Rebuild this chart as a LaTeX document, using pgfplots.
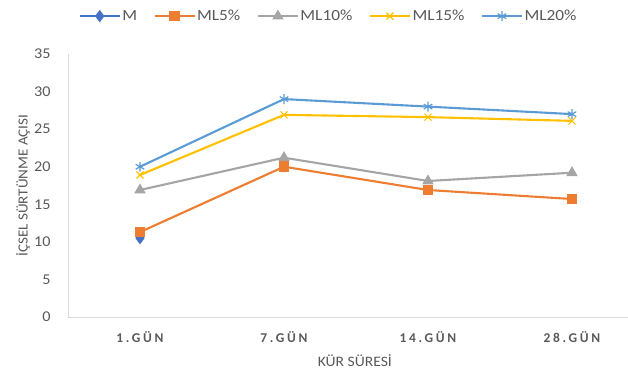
\documentclass[border=0pt]{standalone}
\usepackage{fontspec}
\setmainfont{Carlito}[FakeStretch=1.08]
\newfontfamily\tickfont{Carlito}[LetterSpace=20]
\newfontfamily\legfont{Carlito}[FakeStretch=1.12]
\usepackage{pgfplots}
\pgfplotsset{compat=1.18}
\definecolor{cM}{HTML}{4472C4}
\definecolor{cML5}{HTML}{ED7D31}
\definecolor{cML10}{HTML}{A5A5A5}
\definecolor{cML15}{HTML}{FFC000}
\definecolor{cML20}{HTML}{5B9BD5}
\definecolor{txt}{HTML}{595959}
\definecolor{axl}{HTML}{D9D9D9}
\begin{document}
\begin{tikzpicture}
\useasboundingbox (0,0) rectangle (628bp,374bp);
\begin{axis}[
  at={(68bp,57bp)}, anchor=south west,
  width=576bp, height=263bp, scale only axis,
  xmin=-0.5, xmax=3.5, ymin=0, ymax=35,
  xtick={0,1,2,3}, xticklabels={1.GÜN,7.GÜN,14.GÜN,28.GÜN},
  ytick={0,5,...,35},
  axis lines=left, axis line style={axl, line width=0.8bp, -},
  major tick length=0pt,
  /pgf/number format/assume math mode=true,
  tick label style={font=\fontsize{15}{17}\selectfont, text=txt},
  xticklabel style={font=\tickfont\fontsize{13.5}{15}\selectfont\bfseries, text=txt, anchor=center, yshift=-20bp},
  yticklabel style={anchor=east, xshift=-14bp},
  xlabel={KÜR SÜRESİ},
  ylabel={İÇSEL SÜRTÜNME AÇISI},
  label style={font=\fontsize{14.5}{17}\selectfont, text=txt},
  xlabel style={at={(axis description cs:0.498,-0.166)}, anchor=center},
  ylabel style={at={(axis description cs:-0.078,0.5)}, anchor=center, rotate=0, font=\fontsize{14}{16}\selectfont},
  legend columns=5,
  legend style={at={(axis description cs:0.452,1.144)}, anchor=center, draw=none, fill=none,
    font=\legfont\fontsize{15.5}{17}\selectfont, text=txt,
    nodes={inner sep=1.5bp},
    /tikz/every even column/.append style={column sep=15bp}},
  legend image code/.code={\draw[mark repeat=2,mark phase=2] plot coordinates {(0bp,0bp) (20bp,0bp) (40bp,0bp)};},
  every axis plot/.append style={line width=2.1bp, mark size=4.5bp},
  clip=false,
]
\addplot[cM, mark=diamond*, mark options={solid, fill=cM}] coordinates {(0,10.5)};
\addlegendentry{M}
\addplot[cML5, mark=square*, mark options={solid, fill=cML5, scale=0.95}] coordinates {(0,11.3) (1,20.0) (2,16.9) (3,15.7)};
\addlegendentry{ML5\%}
\addplot[cML10, mark=triangle*, mark options={solid, fill=cML10}] coordinates {(0,16.9) (1,21.2) (2,18.1) (3,19.2)};
\addlegendentry{ML10\%}
\addplot[cML15, mark=x, mark options={solid, line width=1.2bp, scale=1.1}] coordinates {(0,18.9) (1,26.9) (2,26.6) (3,26.1)};
\addlegendentry{ML15\%}
\addplot[cML20, mark=asterisk, mark options={solid, line width=1.2bp, scale=1.1}] coordinates {(0,20.0) (1,29.0) (2,28.0) (3,27.0)};
\addlegendentry{ML20\%}
\end{axis}
\end{tikzpicture}
\end{document}
